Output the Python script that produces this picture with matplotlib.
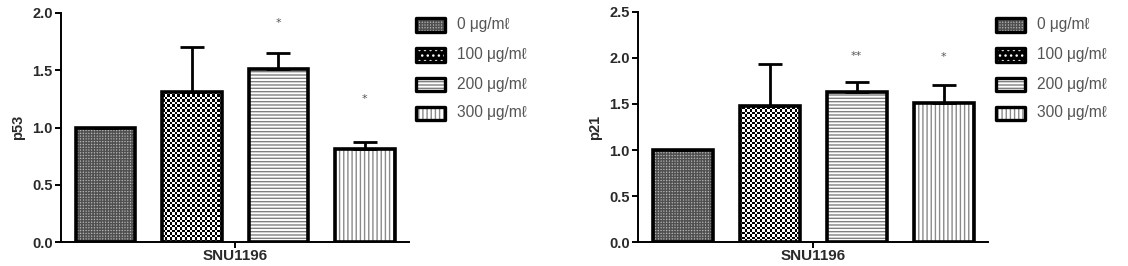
import matplotlib
matplotlib.use("Agg")
import matplotlib.pyplot as plt
from matplotlib.patches import Rectangle
import numpy as np

categories = ["0 \u03bcg/m\u2113", "100 \u03bcg/m\u2113", "200 \u03bcg/m\u2113", "300 \u03bcg/m\u2113"]
group_label = "SNU1196"

p53_values = [1.00, 1.31, 1.51, 0.81]
p53_errors = [0.0, 0.39, 0.14, 0.06]
p53_stars = ["", "", "*", "*"]
p53_star_y = [None, None, 1.91, 1.25]

p21_values = [1.00, 1.48, 1.63, 1.51]
p21_errors = [0.0, 0.45, 0.11, 0.19]
p21_stars = ["", "", "**", "*"]
p21_star_y = [None, None, 2.02, 2.01]

# styles: (facecolor, hatch colour, hatch); None hatch -> checkerboard image
styles = [
    ("#b4b4b4", "#505050", "++++++"),
    ("white", "black", None),
    ("white", "#808080", "-----"),
    ("white", "#8a8a8a", "||||"),
]

plt.rcParams['font.family'] = ['Liberation Sans', 'DejaVu Sans']
plt.rcParams['hatch.linewidth'] = 1.0

fig = plt.figure(figsize=(11.28, 2.66), dpi=100)
W, H = 1128, 266
TXT = '#2a2a2a'


def checker(w_px, h_px, cell=2.5):
    ys, xs = np.mgrid[0:int(h_px * 2) + 2, 0:int(w_px * 2) + 2] / 2.0
    return ((np.floor(xs / cell) + np.floor(ys / cell)) % 2).astype(float)


def draw_checker_in(ax, patch, cell=2.5):
    (x0, y0), (x1, y1) = patch.get_bbox().get_points()
    p0 = ax.transData.transform((x0, y0))
    p1 = ax.transData.transform((x1, y1))
    w_px, h_px = abs(p1[0] - p0[0]), abs(p1[1] - p0[1])
    arr = checker(w_px, h_px, cell)
    im = ax.imshow(arr, cmap='gray', vmin=0, vmax=1, interpolation='nearest',
                   extent=(x0, x0 + arr.shape[1] / 2.0 * (x1 - x0) / w_px,
                           y0, y0 + arr.shape[0] / 2.0 * (y1 - y0) / h_px),
                   origin='lower', aspect='auto', zorder=2)
    im.set_clip_path(patch)


def build(rect, values, errors, stars, star_y, ylabel, ymax, ystep, legend_px):
    ax = fig.add_axes(rect)
    x = np.arange(len(values))
    width = 0.69
    ax.set_xlim(-0.515, 3.51)
    ax.set_ylim(0, ymax)
    checker_patches = []
    for i, (fc, hc, hatch) in enumerate(styles):
        bars = ax.bar(x[i], values[i], width, color=fc, edgecolor=hc, hatch=hatch,
                      linewidth=0, zorder=2)
        if hatch is None:
            checker_patches.append(bars[0])
    for p in checker_patches:
        draw_checker_in(ax, p)
    ax.bar(x, values, width, fill=False, edgecolor='black', linewidth=2.6, zorder=3)
    ax.errorbar(x, values, yerr=[np.zeros(len(values)), errors], fmt='none',
                ecolor='black', elinewidth=2.0, capsize=8.5, capthick=2.0, zorder=4)
    for i, s in enumerate(stars):
        if s:
            ax.text(x[i], star_y[i], s, ha='center', va='center', fontsize=8,
                    color='#555555', family=['DejaVu Sans'])
    ax.set_xlim(-0.515, 3.51)
    ax.set_ylim(0, ymax)
    ticks = np.arange(0, ymax + 1e-9, ystep)
    ax.set_yticks(ticks)
    ax.set_yticklabels([f"{v:.1f}" for v in ticks],
                       fontsize=10.5, fontweight='bold', color=TXT)
    ax.set_xticks([1.5])
    ax.set_xticklabels([group_label], fontsize=11, fontweight='bold', color=TXT)
    ax.set_ylabel(ylabel, fontsize=10.5, fontweight='bold', color=TXT, labelpad=5)
    for sp in ['top', 'right']:
        ax.spines[sp].set_visible(False)
    for sp in ['left', 'bottom']:
        ax.spines[sp].set_linewidth(1.4)
    ax.tick_params(axis='both', direction='out', length=4, width=1.4, pad=2)
    ax.tick_params(axis='x', pad=1)

    # legend in figure pixel coordinates
    px0, px1 = legend_px
    rows_y = [25, 55, 84, 113]
    for i, (fc, hc, h) in enumerate(styles):
        yc = rows_y[i]
        if h is None:
            fc_l, hc_l, h_l = "black", "white", "..."
        else:
            fc_l, hc_l, h_l = fc, hc, h
        fig.patches.append(Rectangle(
            (px0 / W, 1 - (yc + 6.5) / H), (px1 - px0) / W, 13 / H,
            facecolor=fc_l, edgecolor=hc_l, hatch=h_l, linewidth=0,
            transform=fig.transFigure, figure=fig, zorder=5))
        fig.patches.append(Rectangle(
            (px0 / W, 1 - (yc + 6.5) / H), (px1 - px0) / W, 13 / H,
            fill=False, edgecolor='black', linewidth=2.4, joinstyle='round',
            transform=fig.transFigure, figure=fig, zorder=6))
        fig.text((px1 + 12) / W, 1 - yc / H, categories[i], ha='left', va='center',
                 fontsize=11.2, color='#555555')
    return ax


rect1 = [61 / W, 1 - 242 / H, (409 - 61) / W, (242 - 13) / H]
rect2 = [638 / W, 1 - 242.3 / H, (988 - 638) / W, (242.3 - 11.7) / H]

build(rect1, p53_values, p53_errors, p53_stars, p53_star_y, "p53", 2.0, 0.5, (416, 445))
build(rect2, p21_values, p21_errors, p21_stars, p21_star_y, "p21", 2.5, 0.5, (996, 1025))

fig.savefig("out.png", dpi=100)
